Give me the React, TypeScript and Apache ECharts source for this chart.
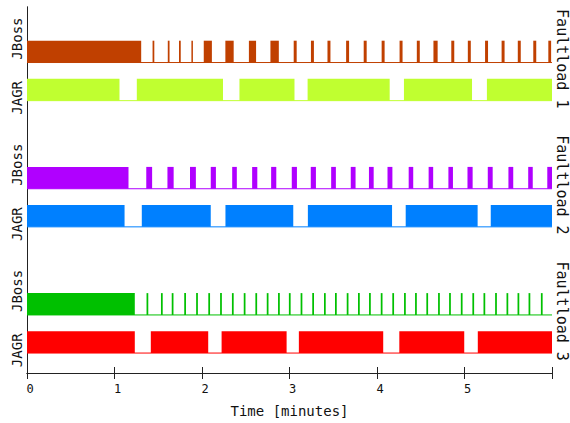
import React, { useEffect, useRef } from 'react';
import * as echarts from 'echarts';

// ---- data (time in minutes) ----
const TIME_MIN = 0;
const TIME_MAX = 6;
const X_TICK_LABELS = ['0', '1', '2', '3', '4', '5'];
const FAULTLOAD_LABELS = ['Faultload 1', 'Faultload 2', 'Faultload 3'];
const SERVER_LABELS = ['JBoss', 'JAGR'];

// intervals [start, end] where the server is "up" (bar high)
const jboss1: [number, number][] = [
  [0, 1.305], [1.435, 1.455], [1.609, 1.629], [1.737, 1.757], [1.879, 1.895],
  [2.02, 2.113], [2.267, 2.362], [2.536, 2.618], [2.782, 2.878],
  [3.048, 3.082], [3.245, 3.279], [3.434, 3.468], [3.647, 3.681], [3.848, 3.882],
  [4.053, 4.087], [4.258, 4.292], [4.455, 4.489], [4.645, 4.693], [4.849, 4.883],
  [5.038, 5.072], [5.235, 5.269], [5.424, 5.458], [5.609, 5.643], [5.786, 5.82],
  [5.958, 5.99],
];
const jagr1: [number, number][] = [
  [0, 1.057], [1.255, 2.24], [2.428, 3.057], [3.207, 4.145], [4.308, 5.086], [5.256, 6],
];
const jboss2: [number, number][] = [
  [0, 1.16], [1.363, 1.43], [1.605, 1.676], [1.863, 1.93], [2.1, 2.159],
  [2.345, 2.398], [2.573, 2.632], [2.79, 2.849], [3.026, 3.085], [3.243, 3.302],
  [3.476, 3.53], [3.7, 3.755], [3.908, 3.962], [4.12, 4.176], [4.362, 4.414],
  [4.59, 4.642], [4.816, 4.868], [5.034, 5.093], [5.266, 5.322], [5.502, 5.557],
  [5.728, 5.78], [5.946, 6],
];
const jagr2: [number, number][] = [
  [0, 1.115], [1.312, 2.1], [2.268, 3.043], [3.21, 4.172], [4.328, 5.15], [5.3, 6],
];
const jboss3: [number, number][] = [
  [0, 1.232],
  [1.366, 1.386], [1.531, 1.551], [1.654, 1.674], [1.797, 1.817], [1.933, 1.953],
  [2.072, 2.092], [2.207, 2.227], [2.342, 2.362], [2.477, 2.497], [2.61, 2.63],
  [2.74, 2.76], [2.869, 2.889], [2.993, 3.013], [3.127, 3.147], [3.26, 3.28],
  [3.394, 3.414], [3.52, 3.54], [3.654, 3.674], [3.783, 3.803], [3.909, 3.929],
  [4.043, 4.063], [4.175, 4.195], [4.309, 4.329], [4.435, 4.455], [4.564, 4.584],
  [4.698, 4.718], [4.824, 4.844], [4.958, 4.978], [5.09, 5.11], [5.217, 5.237],
  [5.35, 5.37], [5.48, 5.5], [5.606, 5.626], [5.732, 5.752], [5.873, 5.893],
];
const jagr3: [number, number][] = [
  [0, 1.232], [1.415, 2.071], [2.224, 2.967], [3.107, 4.071], [4.255, 4.997], [5.152, 6],
];

// ---- layout / style ----
const Y_MAX = 290;
const GROUP_STEP = 100;
const FONT = 'DejaVu Sans Mono';

type Row = { data: [number, number][]; color: string; low: number; high: number };
const rowFor = (data: [number, number][], color: string, group: number, isJBoss: boolean): Row => {
  const base = GROUP_STEP * group + (isJBoss ? 46 : 15.8);
  return { data, color, low: base, high: base + 17.3 };
};
const ROWS: Row[] = [
  rowFor(jboss1, '#c04000', 2, true),
  rowFor(jagr1, '#c0ff30', 2, false),
  rowFor(jboss2, '#b000ff', 1, true),
  rowFor(jagr2, '#0080ff', 1, false),
  rowFor(jboss3, '#00c000', 0, true),
  rowFor(jagr3, '#ff0000', 0, false),
];

const LEFT_LABEL_POS: [number, string][] = [];
[2, 1, 0].forEach((g) => {
  LEFT_LABEL_POS.push([GROUP_STEP * g + 65, SERVER_LABELS[0]]);
  LEFT_LABEL_POS.push([GROUP_STEP * g + 18, SERVER_LABELS[1]]);
});
const RIGHT_LABEL_POS: [number, string][] = FAULTLOAD_LABELS.map((t, i) => [GROUP_STEP * (2 - i) + 49, t]);

export default function App() {
  const ref = useRef<HTMLDivElement>(null);
  useEffect(() => {
    if (!ref.current) return;
    const chart = echarts.init(ref.current, null, { renderer: 'svg' });
    const series: any[] = [];
    ROWS.forEach((row) => {
      series.push({
        type: 'line',
        data: [[TIME_MIN, row.low], [TIME_MAX, row.low]],
        symbol: 'none',
        lineStyle: { color: row.color, width: 1 },
        silent: true,
        z: 1,
      });
      series.push({
        type: 'custom',
        data: row.data,
        clip: true,
        z: 2,
        renderItem: (params: any, api: any) => {
          const p0 = api.coord([api.value(0), row.low]);
          const p1 = api.coord([api.value(1), row.high]);
          const w = Math.max(p1[0] - p0[0], 1.5);
          return {
            type: 'rect',
            shape: { x: p0[0], y: p1[1], width: w, height: p0[1] - p1[1] },
            style: { fill: row.color },
          };
        },
      });
    });
    const leftMap = new Map(LEFT_LABEL_POS.map(([v, t]) => [v, t]));
    const rightMap = new Map(RIGHT_LABEL_POS.map(([v, t]) => [v, t]));
    chart.setOption({
      animation: false,
      backgroundColor: '#fff',
      grid: { left: 27, right: 18, top: 7, bottom: 45 },
      xAxis: [
        {
          type: 'value',
          min: TIME_MIN,
          max: TIME_MAX,
          interval: 1,
          position: 'bottom',
          name: 'Time [minutes]',
          nameLocation: 'middle',
          nameGap: 31,
          nameTextStyle: { fontFamily: FONT, fontSize: 14, color: '#111' },
          axisLine: { show: true, lineStyle: { color: '#222', width: 1 } },
          axisTick: { show: true, inside: true, length: 6, lineStyle: { color: '#222' } },
          axisLabel: {
            fontFamily: FONT,
            fontSize: 12,
            color: '#111',
            margin: 10,
            padding: [0, 0, 0, 6],
            formatter: (v: number) => X_TICK_LABELS[Math.round(v)] ?? '',
          },
          splitLine: { show: false },
        },
        {
          type: 'value',
          min: TIME_MIN,
          max: TIME_MAX,
          interval: 1,
          position: 'top',
          axisLine: { show: true, lineStyle: { color: '#222', width: 1 } },
          axisTick: { show: true, inside: true, length: 6, lineStyle: { color: '#222' } },
          axisLabel: { show: false },
          splitLine: { show: false },
        },
      ],
      yAxis: [
        {
          type: 'value',
          min: 0,
          max: Y_MAX,
          position: 'left',
          axisLine: { show: true, lineStyle: { color: '#222', width: 1 } },
          axisTick: { show: false },
          splitLine: { show: false },
          axisLabel: {
            customValues: LEFT_LABEL_POS.map((p) => p[0]),
            rotate: 90,
            margin: 3,
            fontFamily: FONT,
            fontSize: 14,
            color: '#111',
            formatter: (v: number) => leftMap.get(v) ?? '',
          },
        },
        {
          type: 'value',
          min: 0,
          max: Y_MAX,
          position: 'right',
          axisLine: { show: true, lineStyle: { color: '#222', width: 1 } },
          axisTick: { show: false },
          splitLine: { show: false },
          axisLabel: {
            customValues: RIGHT_LABEL_POS.map((p) => p[0]),
            rotate: -90,
            margin: 2,
            fontFamily: FONT,
            fontSize: 15,
            color: '#111',
            formatter: (v: number) => rightMap.get(v) ?? '',
          },
        },
      ],
      series,
    });
    return () => chart.dispose();
  }, []);
  return (
    <div
      ref={ref}
      style={{ position: 'absolute', left: 0, top: 0, width: 570, height: 423, background: '#fff' }}
    />
  );
}
